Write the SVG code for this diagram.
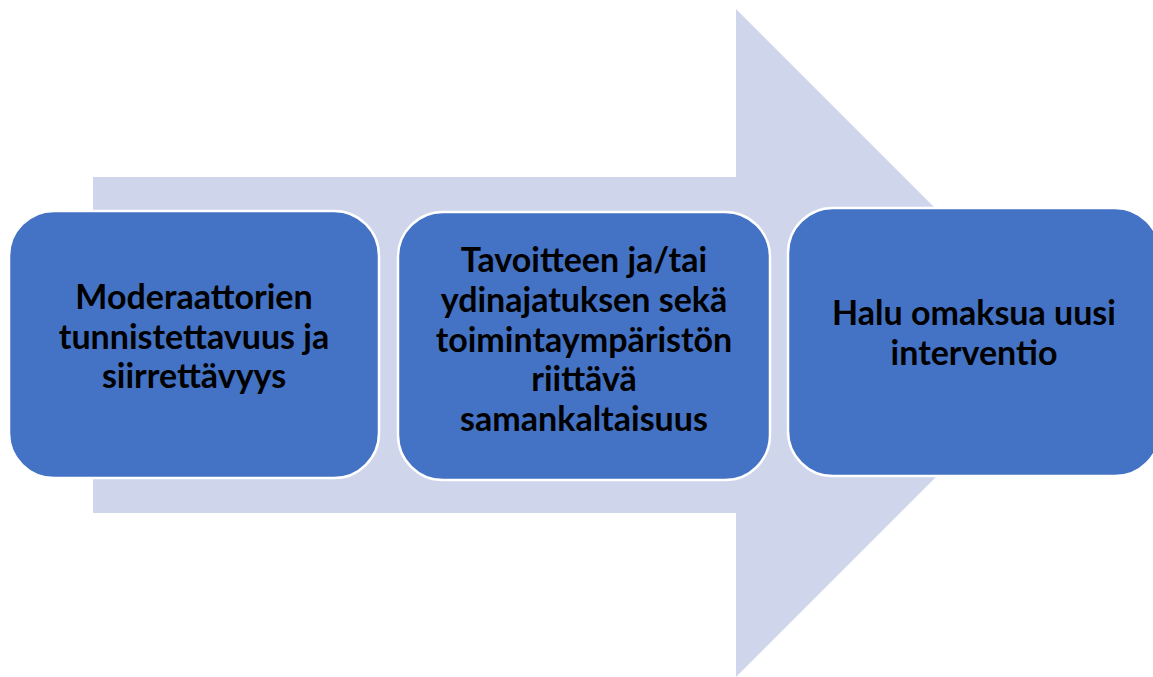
<svg xmlns="http://www.w3.org/2000/svg" width="1153" height="677" viewBox="0 0 1153 677">
<style>
.box{fill:#4472C4;stroke:#FFFFFF;stroke-width:2.5}
.t{font-family:Lato,"Open Sans","Liberation Sans",sans-serif;font-weight:bold;font-size:34px;fill:#000;text-anchor:middle}
</style>
<rect width="1153" height="677" fill="#FFFFFF"/>
<g id="arrow">
<polygon points="93,177 736,177 736,9 1070,343 736,677 736,513 93,513" fill="#CFD5EA"/>
</g>
<g id="connectors"></g>
<g id="node1">
<rect class="box" x="9" y="211" width="370" height="267" rx="45" ry="45"/>
<text class="t" x="194" y="309">Moderaattorien</text>
<text class="t" x="194" y="349">tunnistettavuus ja</text>
<text class="t" x="194" y="388">siirrettävyys</text>
</g>
<g id="node2">
<rect class="box" x="398" y="212" width="372" height="268" rx="45" ry="45"/>
<text class="t" x="584" y="272">Tavoitteen ja/tai</text>
<text class="t" x="584" y="312">ydinajatuksen sekä</text>
<text class="t" x="584" y="352">toimintaympäristön</text>
<text class="t" x="584" y="391">riittävä</text>
<text class="t" x="584" y="431">samankaltaisuus</text>
</g>
<g id="node3">
<rect class="box" x="788" y="208" width="372" height="268" rx="45" ry="45"/>
<text class="t" x="974" y="325">Halu omaksua uusi</text>
<text class="t" x="974" y="365">interventio</text>
</g>
</svg>
